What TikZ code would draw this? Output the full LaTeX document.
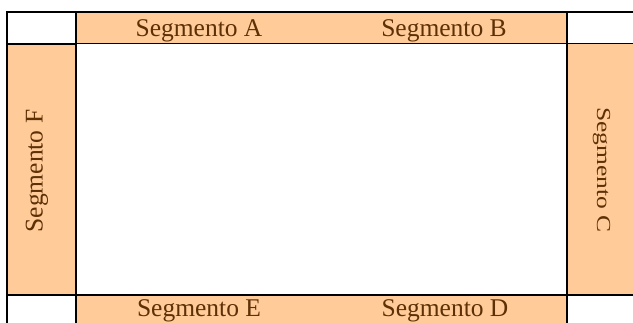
\documentclass[tikz,border=0pt]{standalone}
\usepackage{fontspec}
\setmainfont{Liberation Serif}
\definecolor{peach}{HTML}{FFCC99}
\definecolor{segbrown}{HTML}{5E3006}
\tikzset{
  cellfill/.style={fill=peach, draw=none},
  thickline/.style={line width=2pt, draw=black, line cap=rect},
  thinline/.style={line width=1pt, draw=black},
  seglabel/.style={text=segbrown, font=\fontsize{25.5}{28}\selectfont, inner sep=0pt, anchor=base},
}
\begin{document}
\begin{tikzpicture}[x=1pt, y=-1pt]
  \useasboundingbox (0,0) rectangle (633,323);
  \fill[white] (0,0) rectangle (633,323);
  % fills
  \fill[cellfill] (76,12) rectangle (566.5,44);
  \fill[cellfill] (6.5,44) rectangle (76,295);
  \fill[cellfill] (566.5,44) rectangle (640,295);
  \fill[cellfill] (76,295) rectangle (566.5,330);
  % grid lines
  \draw[thinline] (76,44) -- (640,44);
  \draw[thickline] (6.5,44) -- (76,44);
  \draw[thickline] (6.5,12) -- (640,12);
  \draw[thickline] (6.5,12) -- (6.5,330);
  \draw[thickline] (76,12) -- (76,330);
  \draw[thickline] (566.5,12) -- (566.5,330);
  \draw[thickline] (6.5,295) -- (640,295);
  % labels
  \node[seglabel] (segA) at (199,37) {Segmento A};
  \node[seglabel] (segB) at (444,37) {Segmento B};
  \node[seglabel] (segE) at (199,317) {Segmento E};
  \node[seglabel] (segD) at (445,317) {Segmento D};
  \node[seglabel, rotate=90] (segF) at (42.5,171) {Segmento F};
  \node[seglabel, rotate=-90] (segC) at (597,170) {\scalebox{1}[0.78]{Segmento C}};
\end{tikzpicture}
\end{document}
